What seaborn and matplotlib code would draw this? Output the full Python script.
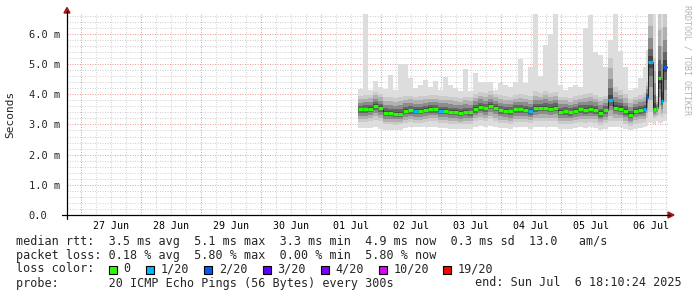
import matplotlib
matplotlib.use("Agg")
import matplotlib.pyplot as plt
import seaborn as sns
import pandas as pd
from matplotlib.patches import Rectangle, Polygon
from matplotlib.lines import Line2D

# ---------------- data ----------------
# sample start times, hours after 01 Jul 00:00 (each sample holds until the next)
hours = [14.8 + 2 * k for k in range(57)] + [128.8 + k for k in range(10)]
t_end = 138.2

rtt_median = [
    3.50, 3.50, 3.52, 3.61, 3.55, 3.38, 3.37, 3.36, 3.36, 3.45,
    3.47, 3.44, 3.45, 3.49, 3.51, 3.50, 3.46, 3.45, 3.42, 3.42,
    3.39, 3.42, 3.40, 3.51, 3.58, 3.53, 3.62, 3.55, 3.47, 3.45,
    3.43, 3.50, 3.50, 3.49, 3.44, 3.53, 3.55, 3.56, 3.52, 3.55,
    3.42, 3.43, 3.40, 3.45, 3.50, 3.48, 3.50, 3.48, 3.37, 3.47,
    3.82, 3.56, 3.52, 3.45, 3.31, 3.45, 3.48,
    3.50, 3.92, 5.06, 5.06, 3.52, 3.55, 4.53, 3.79, 4.92, 4.92]

rtt_max = [
    4.18, 6.66, 4.14, 4.45, 4.25, 4.16, 4.64, 4.14, 5.00, 5.00,
    4.53, 4.20, 4.30, 4.47, 4.25, 4.45, 4.15, 4.58, 4.30, 4.20,
    4.10, 4.83, 4.12, 4.70, 4.40, 4.42, 4.40, 4.15, 4.38, 4.30,
    4.25, 4.40, 5.16, 4.38, 4.90, 6.66, 4.62, 5.64, 6.00, 6.66,
    4.30, 4.15, 4.25, 4.30, 4.25, 6.20, 6.62, 5.40, 5.30, 4.92,
    5.80, 6.66, 5.45, 4.90, 4.15, 4.20, 4.53,
    4.90, 5.47, 6.66, 6.66, 6.66, 3.95, 6.66, 6.66, 6.66, 6.66]

rtt_hi = [
    3.95, 3.98, 3.98, 4.08, 4.02, 3.92, 3.90, 3.88, 3.92, 3.95,
    3.95, 3.92, 3.93, 3.95, 3.97, 3.98, 3.93, 3.94, 3.92, 3.90,
    3.88, 3.92, 3.90, 4.02, 4.08, 4.05, 4.10, 4.02, 3.96, 3.93,
    3.92, 3.98, 4.00, 3.98, 3.94, 4.10, 4.05, 4.10, 4.05, 4.08,
    3.92, 3.92, 3.88, 3.93, 3.98, 4.02, 4.05, 3.98, 3.90, 3.95,
    5.20, 4.25, 4.15, 4.00, 3.85, 3.92, 3.98,
    4.05, 4.40, 6.66, 6.66, 5.20, 3.80, 6.66, 6.20, 6.66, 6.66]

rtt_lo = [
    3.08, 3.08, 3.10, 3.15, 3.10, 3.00, 3.00, 2.98, 3.00, 3.05,
    3.08, 3.05, 3.06, 3.08, 3.10, 3.10, 3.06, 3.05, 3.03, 3.03,
    3.00, 3.03, 3.02, 3.10, 3.15, 3.12, 3.18, 3.12, 3.06, 3.05,
    3.03, 3.08, 3.08, 3.08, 3.04, 3.10, 3.12, 3.12, 3.10, 3.12,
    3.02, 3.03, 3.00, 3.05, 3.08, 3.06, 3.08, 3.06, 2.98, 3.05,
    3.12, 3.12, 3.10, 3.02, 2.95, 3.03, 3.06,
    3.08, 3.20, 3.40, 3.40, 3.20, 3.25, 3.30, 3.25, 3.35, 3.35]

rtt_min = [
    2.87, 2.87, 2.88, 2.90, 2.85, 2.82, 2.82, 2.80, 2.82, 2.88,
    2.92, 2.90, 2.92, 2.93, 2.93, 2.92, 2.88, 2.87, 2.85, 2.86,
    2.85, 2.86, 2.86, 2.92, 2.95, 2.93, 2.95, 2.92, 2.88, 2.87,
    2.86, 2.90, 2.90, 2.90, 2.85, 2.92, 2.93, 2.93, 2.90, 2.92,
    2.85, 2.86, 2.84, 2.87, 2.90, 2.88, 2.90, 2.88, 2.82, 2.86,
    2.90, 2.92, 2.90, 2.85, 2.80, 2.86, 2.88,
    2.90, 2.95, 3.05, 3.05, 3.00, 3.10, 3.05, 3.05, 3.12, 3.12]

# lost pings out of 20 per sample
loss = [
    0, 0, 0, 0, 0, 0, 0, 0, 0, 0,
    0, 1, 0, 0, 0, 0, 1, 0, 0, 0,
    0, 0, 0, 0, 0, 0, 0, 0, 0, 0,
    0, 0, 0, 0, 1, 0, 0, 0, 0, 0,
    0, 0, 0, 0, 0, 0, 0, 0, 0, 0,
    1, 0, 0, 0, 0, 0, 0,
    1, 2, 1, 1, 0, 0, 0, 1, 2, 2]

day_labels = ["27 Jun", "28 Jun", "29 Jun", "30 Jun", "01 Jul",
              "02 Jul", "03 Jul", "04 Jul", "05 Jul", "06 Jul"]
day_starts = [-96, -72, -48, -24, 0, 24, 48, 72, 96, 120]
y_values = [0, 1, 2, 3, 4, 5, 6]
y_labels = ["0.0", "1.0 m", "2.0 m", "3.0 m", "4.0 m", "5.0 m", "6.0 m"]

loss_levels = [0, 1, 2, 3, 4, 10, 19]
loss_names = ["0", "1/20", "2/20", "3/20", "4/20", "10/20", "19/20"]
loss_colors = ["#26ff00", "#00b8ff", "#0059ff", "#5e00ff", "#7e00ff", "#dd00ff", "#ff0000"]

legend_line1 = "median rtt:  3.5 ms avg  5.1 ms max  3.3 ms min  4.9 ms now  0.3 ms sd  13.0   am/s"
legend_line2 = "packet loss: 0.18 % avg  5.80 % max  0.00 % min  5.80 % now"
legend_line3 = "loss color:"
legend_line4 = "probe:       20 ICMP Echo Pings (56 Bytes) every 300s"
legend_end = "end: Sun Jul  6 18:10:24 2025"

# ---------------- figure ----------------
sns.set_style("white")
plt.rcParams["font.family"] = ["DejaVu Sans Mono", "DejaVu Sans"]

W, H = 697, 297
fig = plt.figure(figsize=(W / 100, H / 100), dpi=100)
X0, X1, Y0, Y1 = 67, 668, 14, 215
ax = fig.add_axes([X0 / W, 1 - Y1 / H, (X1 - X0) / W, (Y1 - Y0) / H])
ax.set_xlim(-101.6, 138.8)
ax.set_ylim(0, 6.66)

def px(x, y):
    return (x / W, 1 - y / H)

df = pd.DataFrame({"t": hours, "med": rtt_median, "mx": rtt_max, "hi": rtt_hi,
                   "lo": rtt_lo, "mn": rtt_min, "loss": loss})
last = df.iloc[[-1]].copy()
last["t"] = t_end
dfe = pd.concat([df, last], ignore_index=True)

# grid (dotted, rrdtool style)
dot = (0, (1, 1.5))
gkw = dict(lw=0.72, ls=dot)
for v in range(0, 34):
    if v % 5 == 0:
        continue
    ax.axhline(v * 0.2, color="#d2d2d2", zorder=0.5, **gkw)
for h in range(-96 - 6, 139, 6):
    if h % 24 == 0:
        continue
    ax.axvline(h, color="#d2d2d2", zorder=0.5, **gkw)
for y in y_values[1:]:
    ax.axhline(y, color="#ec9c9c", zorder=0.6, **gkw)
for h in day_starts:
    ax.axvline(h, color="#ec9c9c", zorder=0.6, **gkw)

# smoke
ax.fill_between(dfe.t, dfe.mn, dfe.mx, step="post", color="#dddddd", lw=0, zorder=1)
shades = [(0.0, "#cbcbcb"), (0.25, "#b0b0b0"), (0.5, "#8c8c8c"), (0.72, "#666666"), (0.88, "#444444")]
for f, c in shades:
    low = dfe.lo + f * (dfe.med - dfe.lo)
    high = dfe.hi - f * (dfe.hi - dfe.med)
    ax.fill_between(dfe.t, low, high, step="post", color=c, lw=0, zorder=1.1 + f)

# median line
sns.lineplot(data=dfe, x="t", y="med", drawstyle="steps-post", color="#222222",
             lw=0.7, ax=ax, zorder=3)
cmap = dict(zip(loss_levels, loss_colors))
t_next = hours[1:] + [t_end]
ax.hlines(rtt_median, hours, t_next, colors=[cmap[l] for l in loss],
          lw=2.3, zorder=4, capstyle="butt")
ax.set_xlabel("")
ax.set_ylabel("")

# axes / ticks
for s in ax.spines.values():
    s.set_visible(False)
ax.set_yticks(y_values)
ax.set_yticklabels(y_labels)
ax.set_xticks([d + 12 for d in day_starts])
ax.set_xticklabels(day_labels)
ax.set_xticks(day_starts, minor=True)
ax.tick_params(axis="x", which="major", length=0, pad=4, labelsize=7.2, colors="#000000")
ax.tick_params(axis="x", which="minor", length=2.5, width=0.72, direction="out", color="#000000")
ax.tick_params(axis="y", which="major", length=2, width=0.72, pad=25.5, labelsize=7.5)
for lb in ax.get_yticklabels():
    lb.set_horizontalalignment("left")

# axis lines and arrows
fig.add_artist(Line2D([px(67, 0)[0]] * 2, [px(0, 219)[1], px(0, 11)[1]],
                      color="black", lw=0.9))
fig.add_artist(Line2D([px(62, 0)[0], px(670, 0)[0]], [px(0, 215)[1]] * 2,
                      color="black", lw=0.9))
arrow_col = "#9b1b1b"
fig.add_artist(Polygon([px(64, 13), px(70, 13), px(67, 7.5)], closed=True,
                       color=arrow_col, transform=fig.transFigure))
fig.add_artist(Polygon([px(668, 212), px(668, 218), px(674, 215)], closed=True,
                       color=arrow_col, transform=fig.transFigure))

# texts
fig.text(*px(10, 114), "Seconds", rotation=90, ha="center", va="center", fontsize=8)
fig.text(*px(687, 60), "RRDTOOL / TOBI OETIKER", rotation=270, ha="center",
         va="center", fontsize=6, color="#b4b4b4")

fs = 8.5
fig.text(*px(16, 241), legend_line1, ha="left", va="center", fontsize=fs)
fig.text(*px(16, 255), legend_line2, ha="left", va="center", fontsize=fs)
fig.text(*px(16, 269), legend_line3, ha="left", va="center", fontsize=fs)
fig.text(*px(16, 283), legend_line4, ha="left", va="center", fontsize=fs)
fig.text(*px(682, 283), legend_end, ha="right", va="center", fontsize=fs)

box_x = [108.5, 146, 204, 262.5, 320.5, 378.5, 443]
for bx, name, col in zip(box_x, loss_names, loss_colors):
    fig.add_artist(Rectangle(px(bx, 273.5), 8 / W, 8 / H, transform=fig.transFigure,
                             facecolor=col, edgecolor="black", lw=0.8))
    fig.text(*px(bx + 15, 269), name, ha="left", va="center", fontsize=fs)

fig.savefig("out.png", dpi=100)
